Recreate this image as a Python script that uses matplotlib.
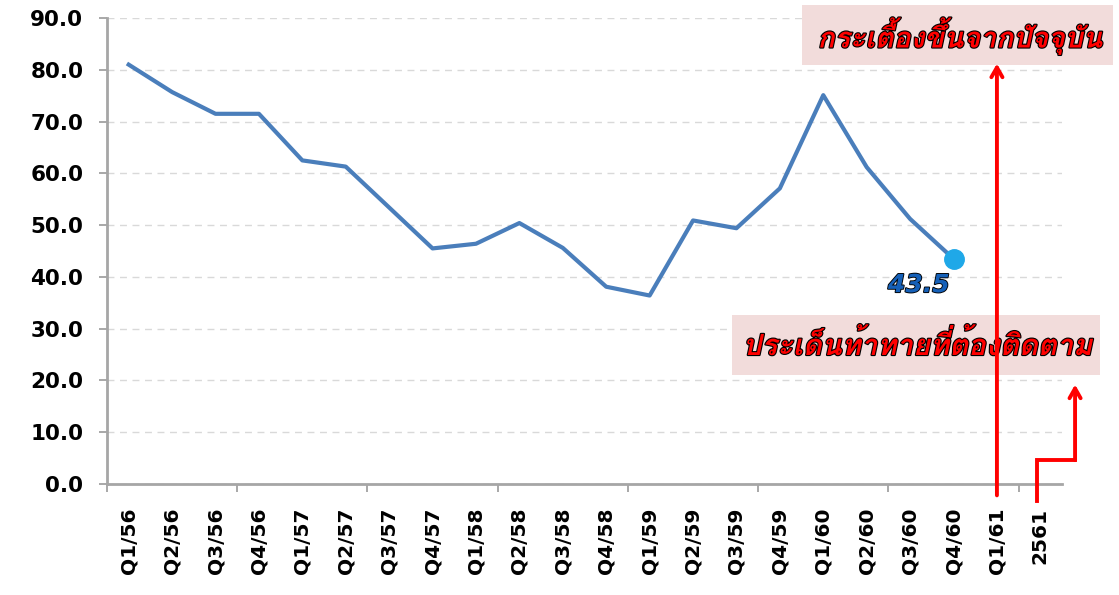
import numpy as np
import matplotlib
matplotlib.use("Agg")
import matplotlib.pyplot as plt
import matplotlib.patheffects as pe
from matplotlib.patches import Rectangle
from matplotlib import font_manager
from matplotlib.ft2font import FT2Font

# data
quarters = ["Q1/56", "Q2/56", "Q3/56", "Q4/56", "Q1/57", "Q2/57", "Q3/57", "Q4/57",
            "Q1/58", "Q2/58", "Q3/58", "Q4/58", "Q1/59", "Q2/59", "Q3/59", "Q4/59",
            "Q1/60", "Q2/60", "Q3/60", "Q4/60", "Q1/61", "2561"]
index_values = [81.0, 75.7, 71.5, 71.5, 62.5, 61.3, 53.4, 45.5, 46.4, 50.4, 45.6, 38.1,
                36.4, 50.9, 49.4, 57.1, 75.1, 61.2, 51.2, 43.5]
y_ticks = [0, 10, 20, 30, 40, 50, 60, 70, 80, 90]
note_top = "กระเตื้องขึ้นจากปัจจุบัน"
note_bottom = "ประเด็นท้าทายที่ต้องติดตาม"


def thai_font():
    # pick any installed font that has Thai glyphs
    for f in font_manager.fontManager.ttflist:
        try:
            cmap = FT2Font(f.fname).get_charmap()
        except Exception:
            continue
        if 0x0E01 in cmap and 0x0E40 in cmap:
            return f.name
    return "DejaVu Sans"


th_family = [thai_font(), "DejaVu Sans"]

fig = plt.figure(figsize=(11.19, 5.95), dpi=100)
ax = fig.add_axes([0.0956, 0.1866, 0.8535, 0.7831])

x = np.arange(len(index_values))
ax.plot(x, index_values, color="#4a7ebb", lw=3.0, solid_joinstyle="round")
ax.plot(x[-1], index_values[-1], "o", color="#1fa8e8", ms=14, zorder=5)
ax.text(18.2, 38.4, f"{index_values[-1]:.1f}", ha="center", va="center",
        fontsize=18, fontweight="bold", style="italic", color="#1560b8",
        path_effects=[pe.withStroke(linewidth=1.3, foreground="black")])

ax.set_xlim(-0.5, len(quarters) - 0.5)
ax.set_ylim(0, 90)
ax.set_yticks(y_ticks)
ax.set_yticklabels([f"{v:.1f}" for v in y_ticks], fontsize=15.5, fontweight="bold")
ax.set_xticks(np.arange(len(quarters)))
ax.set_xticklabels(quarters, rotation=90, fontsize=14.5, fontweight="bold")
ax.tick_params(axis="x", length=0, pad=17)
ax.set_xticks(np.arange(-0.5, len(quarters), 3), minor=True)
ax.tick_params(axis="x", which="minor", length=6, color="#999999", width=1.2)
ax.tick_params(axis="y", length=6, color="#999999", width=1.2, pad=11)

ax.grid(axis="y", ls=(0, (5, 4)), color="#d9d9d9", lw=1)
ax.set_axisbelow(True)
for s in ["top", "right"]:
    ax.spines[s].set_visible(False)
for s in ["left", "bottom"]:
    ax.spines[s].set_color("#a6a6a6")
    ax.spines[s].set_linewidth(2)

# pink note boxes, drawn in figure coords but inside the axes so arrows go on top
ax.add_patch(Rectangle((802 / 1119, 1 - 65 / 595), 311 / 1119, 60 / 595,
                       transform=fig.transFigure, fc="#f2dcdb", ec="none", zorder=3,
                       clip_on=False))
ax.add_patch(Rectangle((732 / 1119, 1 - 375 / 595), 368 / 1119, 60 / 595,
                       transform=fig.transFigure, fc="#f2dcdb", ec="none", zorder=3,
                       clip_on=False))
fx = [pe.withStroke(linewidth=1.6, foreground="black")]
ax.text(960 / 1119, 1 - 36 / 595, note_top, transform=fig.transFigure, ha="center",
        va="center", fontsize=20.5, fontweight="bold", style="italic", color="#ff0000",
        family=th_family, path_effects=fx, zorder=4)
ax.text(918 / 1119, 1 - 346 / 595, note_bottom, transform=fig.transFigure, ha="center",
        va="center", fontsize=21, fontweight="bold", style="italic", color="#ff0000",
        family=th_family, path_effects=fx, zorder=4)

# red arrows
red = "#ff0000"
head = "->,head_length=0.7,head_width=0.4"
ax.annotate("", xy=(20.0, 81.2), xytext=(20.0, -2.2), annotation_clip=False, zorder=6,
            arrowprops=dict(arrowstyle=head, color=red, lw=2.8, shrinkA=0, shrinkB=0))
ax.plot([20.93, 20.93, 21.8], [-3.2, 4.6, 4.6], color=red, lw=2.8, clip_on=False,
        solid_joinstyle="miter", zorder=6)
ax.annotate("", xy=(21.8, 19.2), xytext=(21.8, 4.6), annotation_clip=False, zorder=6,
            arrowprops=dict(arrowstyle=head, color=red, lw=2.8, shrinkA=0, shrinkB=0))

fig.savefig("out.png", dpi=100)
